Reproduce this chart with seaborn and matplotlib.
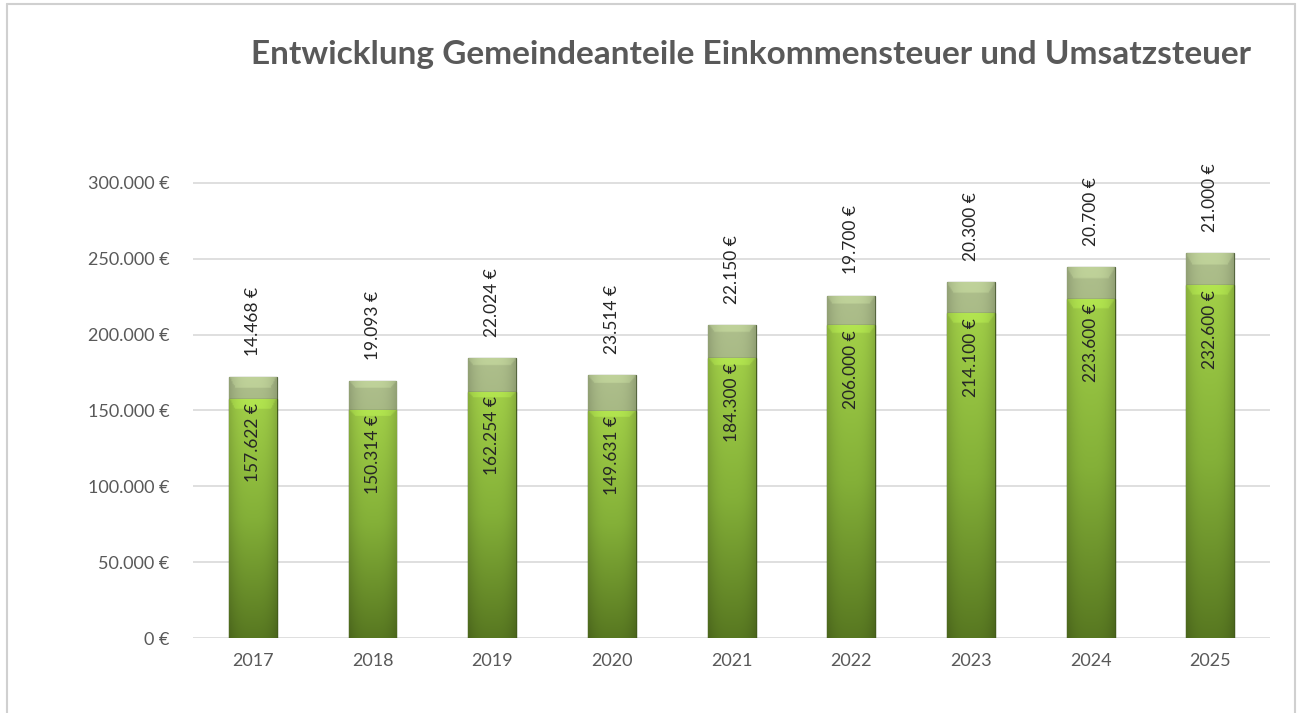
import numpy as np
import pandas as pd
import seaborn as sns
import matplotlib.pyplot as plt
from matplotlib.lines import Line2D

# Data
years = ["2017", "2018", "2019", "2020", "2021", "2022", "2023", "2024", "2025"]
einkommensteuer = [157622, 150314, 162254, 149631, 184300, 206000, 214100, 223600, 232600]
umsatzsteuer = [14468, 19093, 22024, 23514, 22150, 19700, 20300, 20700, 21000]


def euro(v):
    return f"{v:,.0f} €".replace(",", ".")


df = pd.DataFrame({"Jahr": years, "ESt": einkommensteuer, "USt": umsatzsteuer})
df["Gesamt"] = df["ESt"] + df["USt"]

sns.set_theme(style="white")
plt.rcParams["font.family"] = ["Lato", "DejaVu Sans"]

fig, ax = plt.subplots(figsize=(13, 7.13), dpi=100)
fig.subplots_adjust(left=0.1485, right=0.977, top=0.85, bottom=0.105)

# stacked bars: total first (Umsatzsteuer on top), then Einkommensteuer
sns.barplot(data=df, x="Jahr", y="Gesamt", color="#96a872", width=0.4,
            edgecolor="#56653f", linewidth=0.9, ax=ax, zorder=2)
sns.barplot(data=df, x="Jahr", y="ESt", color="#86b33a", width=0.4,
            edgecolor="#435c1a", linewidth=0.9, ax=ax, zorder=3)

n = len(years)
top_patches = ax.patches[:n]
bot_patches = ax.patches[n:]


def shade(p, c_top, c_mid, c_bot, z):
    x0, y0 = p.get_x(), p.get_y()
    w, h = p.get_width(), p.get_height()
    ny, nx = 200, 40
    t = np.linspace(0, 1, ny)[:, None]  # 0 = top
    c_top, c_mid, c_bot = [np.array(plt.matplotlib.colors.to_rgb(c)) for c in (c_top, c_mid, c_bot)]
    col = np.where(t[..., None] < 0.5,
                   c_top + (c_mid - c_top) * (t[..., None] / 0.5),
                   c_mid + (c_bot - c_mid) * ((t[..., None] - 0.5) / 0.5))
    col = np.repeat(col, nx, axis=1)
    # darker sides + bevel highlight at the top
    xs = np.linspace(0, 1, nx)[None, :]
    side = 1 - 0.15 * (np.abs(xs - 0.5) * 2) ** 3
    col = col * side[..., None]
    bevel_px = 14.0
    h_px = abs(ax.transData.transform((0, h))[1] - ax.transData.transform((0, 0))[1])
    frac = min(bevel_px / max(h_px, 1), 0.5)
    yy = np.linspace(0, 1, ny)[:, None] * np.ones((1, nx))
    inside = (yy < frac) & (xs > yy / frac * 0.12) & (xs < 1 - yy / frac * 0.12)
    col[inside] = np.clip(col[inside] * 1.1, 0, 1)
    im = ax.imshow(col, extent=(x0, x0 + w, y0, y0 + h), aspect="auto",
                   origin="upper", zorder=z, interpolation="bilinear")
    im.set_clip_path(p)


for p in top_patches:
    shade(p, "#aebf8c", "#97aa72", "#7f915b", 2.5)
for p in bot_patches:
    shade(p, "#a2d048", "#84b038", "#587821", 3.5)

ax.set_xlim(-0.5, n - 0.5)
ax.set_ylim(0, 350000)

# labels
for i in range(n):
    ax.text(i, einkommensteuer[i] - 3000, euro(einkommensteuer[i]), rotation=90,
            ha="center", va="top", fontsize=12.5, color="#262626", zorder=5)
    ax.text(i, einkommensteuer[i] + umsatzsteuer[i] + 14000, euro(umsatzsteuer[i]),
            rotation=90, ha="center", va="bottom", fontsize=12.5, color="#262626", zorder=5)

ax.set_yticks(range(0, 300001, 50000))
ax.set_yticklabels([euro(v) for v in range(0, 300001, 50000)])
ax.yaxis.grid(True, color="#d9d9d9", linewidth=1.2, zorder=0)
ax.set_axisbelow(True)
for s in ax.spines.values():
    s.set_visible(False)
ax.tick_params(axis="both", length=0, labelsize=13, labelcolor="#595959")
ax.tick_params(axis="x", pad=11)
ax.tick_params(axis="y", pad=17)
ax.set_xlabel("")
ax.set_ylabel("")

fig.text(0.578, 0.923, "Entwicklung Gemeindeanteile Einkommensteuer und Umsatzsteuer",
         ha="center", va="center", fontsize=24, fontweight="bold", color="#595959")

# outer frame
for xs_, ys_ in [([0.0055, 0.0055], [0.0, 0.994]), ([0.0055, 0.996], [0.994, 0.994]),
                 ([0.996, 0.996], [0.994, 0.0])]:
    fig.add_artist(Line2D(xs_, ys_, transform=fig.transFigure, color="#d0d0d0", linewidth=1.5))

fig.savefig("out.png", dpi=100)
